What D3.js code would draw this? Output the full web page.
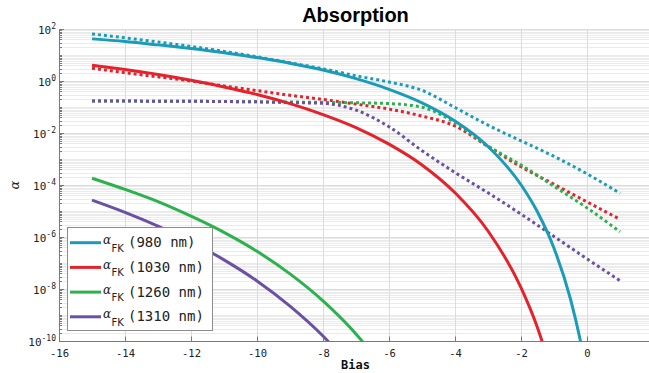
<!DOCTYPE html>
<html>
<head>
<meta charset="utf-8">
<script src="https://cdn.jsdelivr.net/npm/d3@7"></script>
<style>
  html, body { margin: 0; padding: 0; background: #fff; }
  svg { display: block; }
</style>
</head>
<body>
<svg id="chart" width="649" height="373"></svg>
<script>
// Absorption versus bias: Franz-Keldysh absorption (solid) and the full model (dotted)

const wavelengths = ["980 nm", "1030 nm", "1260 nm", "1310 nm"];
const colors = ["#1a9cb8", "#e4222b", "#2bb24c", "#6a51a3"];

// Franz-Keldysh absorption, alpha_FK
const biasFK980 = [-15, -14, -13, -12, -11, -10, -9, -8, -7, -6, -5, -4, -3, -2, -1.5, -1, -0.5, -0.2, 0];
const alphaFK980 = [41.7, 33.1, 24.5, 17.8, 12.3, 7.94, 4.79, 2.63, 1.23, 0.479, 0.145, 2.88e-2, 3.02e-3,
  1.02e-4, 9.12e-6, 3.72e-7, 4.07e-9, 1.02e-10, 5.0e-12];

const biasFK1030 = [-15, -14, -13, -12, -11, -10, -9, -8, -7, -6, -5, -4, -3, -2, -1.5, -1];
const alphaFK1030 = [4.07, 2.75, 1.78, 1.07, 0.589, 0.302, 0.135, 5.13e-2, 1.62e-2, 3.72e-3, 5.89e-4,
  5.01e-5, 1.70e-6, 1.12e-8, 3.24e-10, 3.16e-12];

const biasFK1260 = [-15, -14, -13, -12, -11, -10, -9, -8, -7, -6];
const alphaFK1260 = [1.82e-4, 6.76e-5, 2.29e-5, 6.31e-6, 1.51e-6, 2.82e-7, 3.80e-8, 3.47e-9, 1.86e-10, 4.79e-12];

const biasFK1310 = [-15, -14, -13, -12, -11, -10, -9, -8, -7];
const alphaFK1310 = [2.63e-5, 8.91e-6, 2.63e-6, 6.61e-7, 1.32e-7, 2.04e-8, 2.19e-9, 1.55e-10, 6.03e-12];

// Full absorption model (dotted)
const biasModel = [-15, -14, -13, -12, -11, -10, -9, -8, -7, -6, -5, -4, -3, -2, -1, 0, 1];
const alphaModel980 = [64.6, 45.7, 31.6, 21.4, 13.8, 8.51, 5.01, 2.95, 1.585, 0.912, 0.437, 9.55e-2,
  2.0e-2, 5.01e-3, 1.26e-3, 2.69e-4, 4.79e-5];
const alphaModel1030 = [3.09, 2.09, 1.445, 1.0, 0.646, 0.427, 0.282, 0.195, 0.129, 8.32e-2, 4.47e-2,
  1.86e-2, 3.02e-3, 5.01e-4, 1.07e-4, 2.24e-5, 4.79e-6];
const alphaModel1260 = [0.170, 0.170, 0.166, 0.166, 0.162, 0.158, 0.155, 0.151, 0.145, 0.135, 9.77e-2,
  2.51e-2, 3.16e-3, 5.89e-4, 8.91e-5, 1.32e-5, 1.585e-6];
const alphaModel1310 = [0.170, 0.170, 0.166, 0.166, 0.162, 0.158, 0.148, 0.138, 7.59e-2, 1.74e-2,
  2.09e-3, 3.02e-4, 5.01e-5, 7.59e-6, 1.05e-6, 1.445e-7, 2.09e-8];

const xTicks = [-16, -14, -12, -10, -8, -6, -4, -2, 0];
const yTickExponents = [-10, -8, -6, -4, -2, 0, 2];

const title = "Absorption";
const xLabel = "Bias";
const yLabel = "\u03b1";

const svg = d3.select("#chart");
const W = 649, H = 373;
const plot = { left: 59, right: 653, top: 29, bottom: 341 };

const x = d3.scaleLinear().domain([-16, 2]).range([plot.left, plot.right]);
const y = d3.scaleLog().domain([1e-10, 1e2]).range([plot.bottom, plot.top]);

svg.append("rect").attr("width", W).attr("height", H).attr("fill", "#fff");

svg.append("defs").append("clipPath").attr("id", "plotClip")
  .append("rect")
  .attr("x", plot.left).attr("y", plot.top - 2)
  .attr("width", plot.right - plot.left).attr("height", plot.bottom - plot.top + 2);

// Grid: minor horizontal lines at every m*10^k, major ones at labelled decades, vertical at x ticks
const grid = svg.append("g");
const minorVals = [];
for (let k = -10; k < 2; k++) for (let m = 1; m <= 9; m++) minorVals.push(m * Math.pow(10, k));
minorVals.push(100);
grid.selectAll("line.hminor").data(minorVals).join("line")
  .attr("x1", plot.left).attr("x2", plot.right)
  .attr("y1", d => Math.round(y(d)) + 0.5).attr("y2", d => Math.round(y(d)) + 0.5)
  .attr("stroke", "#ebebeb").attr("stroke-width", 1);
grid.selectAll("line.hmajor").data(yTickExponents).join("line")
  .attr("x1", plot.left).attr("x2", plot.right)
  .attr("y1", d => Math.round(y(Math.pow(10, d))) + 0.5).attr("y2", d => Math.round(y(Math.pow(10, d))) + 0.5)
  .attr("stroke", "#dcdcdc").attr("stroke-width", 1);
grid.selectAll("line.v").data(xTicks.slice(1)).join("line")
  .attr("x1", d => Math.round(x(d)) + 0.5).attr("x2", d => Math.round(x(d)) + 0.5)
  .attr("y1", plot.top).attr("y2", plot.bottom)
  .attr("stroke", "#dcdcdc").attr("stroke-width", 1);

// Axes
const axisColor = "#7a7a7a";
const xAxis = d3.axisBottom(x).tickValues(xTicks).tickSize(-5).tickPadding(8)
  .tickFormat(d => String(d));
const gx = svg.append("g").attr("transform", `translate(0,${plot.bottom + 0.5})`).call(xAxis);
gx.select(".domain").attr("stroke", axisColor).attr("d", `M${plot.left},0H${plot.right}`);
gx.selectAll(".tick line").attr("stroke", axisColor);
gx.selectAll(".tick text")
  .attr("fill", "#222").attr("font-family", "DejaVu Sans Mono, monospace").attr("font-size", 10.5)
  .attr("dy", "0.71em");

// Left axis with minor ticks
const gy = svg.append("g");
gy.append("line").attr("x1", plot.left + 0.5).attr("x2", plot.left + 0.5)
  .attr("y1", plot.top).attr("y2", plot.bottom).attr("stroke", axisColor);
gy.selectAll("line.minorTick").data(minorVals).join("line")
  .attr("x1", plot.left).attr("x2", plot.left + 3)
  .attr("y1", d => Math.round(y(d)) + 0.5).attr("y2", d => Math.round(y(d)) + 0.5)
  .attr("stroke", axisColor);
gy.selectAll("line.majorTick").data(yTickExponents).join("line")
  .attr("x1", plot.left).attr("x2", plot.left + 5)
  .attr("y1", d => Math.round(y(Math.pow(10, d))) + 0.5).attr("y2", d => Math.round(y(Math.pow(10, d))) + 0.5)
  .attr("stroke", axisColor);
const yLabels = gy.selectAll("text.ylab").data(yTickExponents).join("text")
  .attr("x", 56).attr("y", d => y(Math.pow(10, d)) + 5)
  .attr("text-anchor", "end").attr("fill", "#222")
  .attr("font-family", "DejaVu Sans Mono, monospace").attr("font-size", 11);
yLabels.append("tspan").text("10");
yLabels.append("tspan").attr("dy", -5).attr("font-size", 8).text(d => String(d));

// Series
const line = d3.line().x(d => x(d[0])).y(d => y(d[1])).curve(d3.curveMonotoneX);
const fkSeries = [
  [biasFK980, alphaFK980], [biasFK1030, alphaFK1030],
  [biasFK1260, alphaFK1260], [biasFK1310, alphaFK1310]
];
const modelSeries = [alphaModel980, alphaModel1030, alphaModel1260, alphaModel1310];

const marks = svg.append("g").attr("clip-path", "url(#plotClip)");
modelSeries.forEach((vals, i) => {
  marks.append("path")
    .datum(biasModel.map((b, j) => [b, vals[j]]))
    .attr("d", line).attr("fill", "none")
    .attr("stroke", colors[i]).attr("stroke-width", 3)
    .attr("stroke-dasharray", "3,3");
});
fkSeries.forEach(([bs, vals], i) => {
  marks.append("path")
    .datum(bs.map((b, j) => [b, vals[j]]))
    .attr("d", line).attr("fill", "none")
    .attr("stroke", colors[i]).attr("stroke-width", 3);
});

// Legend
const lg = svg.append("g");
lg.append("rect").attr("x", 67.5).attr("y", 227.5).attr("width", 145).attr("height", 103)
  .attr("fill", "#fff").attr("stroke", "#8c8c8c").attr("stroke-width", 1);
wavelengths.forEach((w, i) => {
  const yi = 242.7 + i * 24.7;
  lg.append("line").attr("x1", 70).attr("x2", 101).attr("y1", yi).attr("y2", yi)
    .attr("stroke", colors[i]).attr("stroke-width", 3);
  lg.append("text").attr("x", 103).attr("y", yi + 1.5)
    .attr("font-family", "DejaVu Serif, serif").attr("font-style", "italic").attr("font-size", 12)
    .attr("fill", "#222").text("\u03b1");
  lg.append("text").attr("x", 111.5).attr("y", yi + 9)
    .attr("font-family", "DejaVu Sans, sans-serif").attr("font-size", 10)
    .attr("fill", "#222").text("FK");
  lg.append("text").attr("x", 128).attr("y", yi + 4.5)
    .attr("font-family", "DejaVu Sans Mono, monospace").attr("font-size", 14)
    .attr("fill", "#222").text(`(${w})`);
});

// Titles
svg.append("text").attr("x", 355.5).attr("y", 21.7).attr("text-anchor", "middle")
  .attr("font-family", "Liberation Sans, Arial, sans-serif").attr("font-weight", "bold")
  .attr("font-size", 20).attr("fill", "#000").text(title);
svg.append("text").attr("x", 355.5).attr("y", 369.3).attr("text-anchor", "middle")
  .attr("font-family", "DejaVu Sans Mono, monospace").attr("font-weight", "bold")
  .attr("font-size", 12).attr("fill", "#111").text(xLabel);
svg.append("text").attr("transform", "translate(19,185) rotate(-90)").attr("text-anchor", "middle")
  .attr("font-family", "DejaVu Serif, serif").attr("font-style", "italic")
  .attr("font-size", 13).attr("fill", "#222").text(yLabel);
</script>
</body>
</html>
